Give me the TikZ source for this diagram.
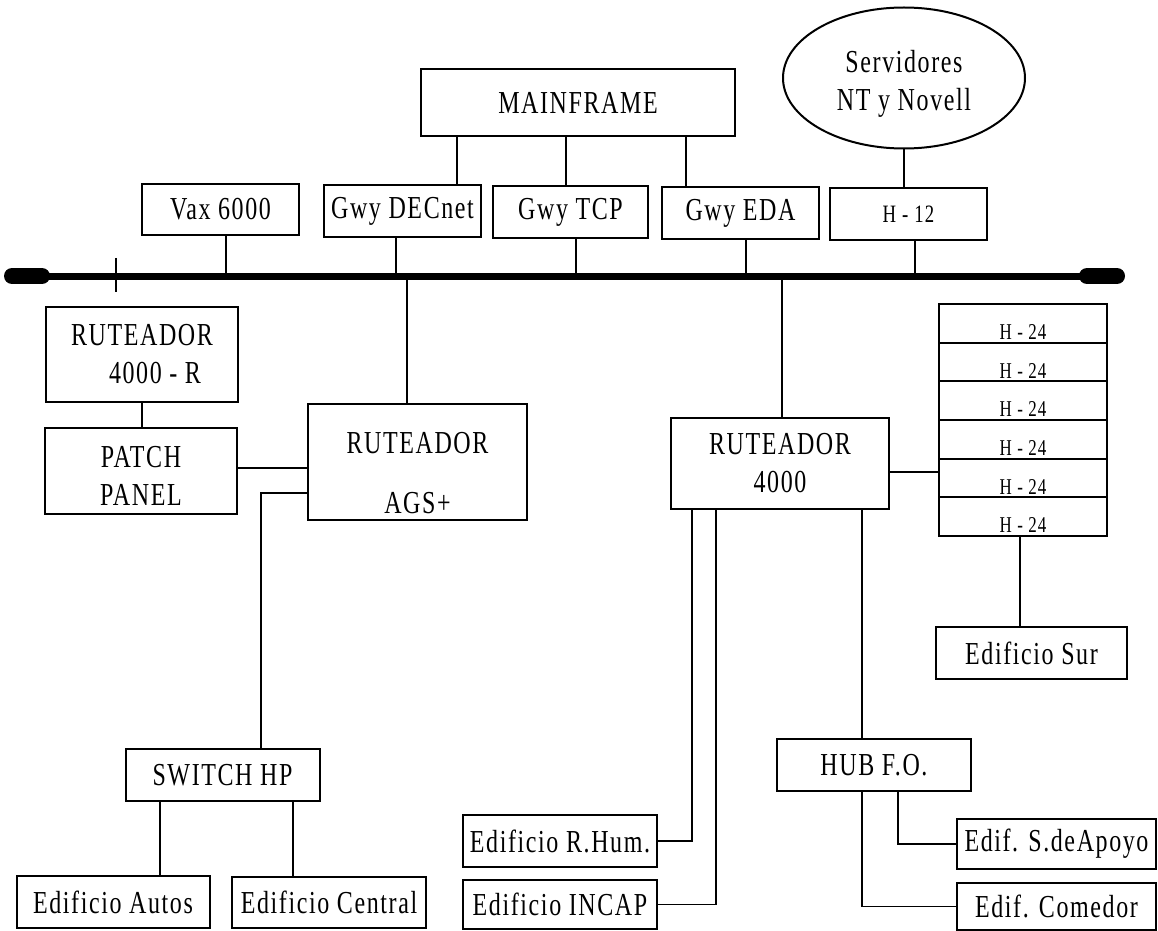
\documentclass[tikz,border=0pt]{standalone}
\usepackage{fontspec}
\setmainfont{Liberation Serif}[FakeStretch=0.75,LetterSpace=5]
\usetikzlibrary{shapes.geometric}

\begin{document}
\begin{tikzpicture}[
        x=0.5pt, y=-0.5pt,
        every node/.style={font=\fontsize{16}{19}\selectfont},
        box/.style={
            draw,
            rectangle,
            line width=1pt,
            inner sep=0pt,
            align=center
        },
        rowbox/.style={
            box,
            minimum width=84pt,
            minimum height=19.33pt,
            text height=16pt,
            text depth=0pt,
            font=\fontsize{11.3}{13}\selectfont
        },
        link/.style={line width=0.8pt},
        bus/.style={line width=3.5pt},
        buscap/.style={line width=8pt, line cap=round}
    ]

    \useasboundingbox (0,0) rectangle (1158,931);

    \node[box, minimum width=157pt, minimum height=33.5pt] (mainframe) at (578,102.5) {MAINFRAME};
    \node[draw, ellipse, line width=1pt, inner sep=0pt, align=center,
          minimum width=121pt, minimum height=70.5pt] (servers) at (904,78)
        {\rule{0pt}{16.5pt}Servidores\\NT y Novell};

    \node[box, minimum width=78.5pt, minimum height=25.5pt] (vax) at (220.5,209.5) {Vax 6000};
    \node[box, minimum width=78.5pt, minimum height=26pt] (decnet) at (402.5,211) {Gwy DECnet};
    \node[box, minimum width=77.5pt, minimum height=26pt] (tcp) at (570.5,212) {Gwy TCP};
    \node[box, minimum width=78.5pt, minimum height=26pt] (eda) at (740.5,213) {Gwy EDA};
    \node[box, minimum width=78.5pt, minimum height=26pt,
          font=\fontsize{12.5}{15}\selectfont] (h12) at (908.5,214) {H - 12};

    \node[box, minimum width=96pt, minimum height=47.5pt] (r4000r) at (142,354.5)
        {RUTEADOR\\\hspace*{13pt}4000 - R};
    \node[box, minimum width=96pt, minimum height=43pt] (patch) at (141,471)
        {\rule{0pt}{15.6pt}PATCH\\PANEL};
    \node[box, minimum width=109.5pt, minimum height=58pt] (ags) at (417.5,462)
        {\rule{0pt}{21.6pt}RUTEADOR\\[11pt]AGS+};
    \node[box, minimum width=109pt, minimum height=45.5pt] (r4000) at (780,463.5) {RUTEADOR\\4000};

    \foreach \i in {1,...,6}
        \node[rowbox] (h24-\i) at (1023,{304+38.667*(\i-0.5)}) {H - 24};

    \node[box, minimum width=95.5pt, minimum height=26pt] (sur) at (1031.5,653) {Edificio Sur};
    \node[box, minimum width=97pt, minimum height=26pt] (switch) at (222.5,775) {SWITCH HP};
    \node[box, minimum width=96.5pt, minimum height=26pt] (autos) at (113,902) {Edificio Autos};
    \node[box, minimum width=97pt, minimum height=25.5pt] (central) at (329,902.5) {Edificio Central};
    \node[box, minimum width=97pt, minimum height=26pt] (rhum) at (560,841) {Edificio R.Hum.};
    \node[box, minimum width=97pt, minimum height=24.5pt] (incap) at (560,904.5) {Edificio INCAP};
    \node[box, minimum width=97pt, minimum height=26pt] (hub) at (874,765) {HUB F.O.};
    \node[box, minimum width=99.5pt, minimum height=25pt] (apoyo) at (1056.5,844) {Edif. S.deApoyo};
    \node[box, minimum width=99.5pt, minimum height=23.5pt] (comedor) at (1056.5,906.5) {Edif. Comedor};

    % backbone
    \coordinate (busL) at (12,276);
    \coordinate (busR) at (1117,276);
    \draw[bus] (busL) -- (busR);
    \draw[buscap] (busL) -- ++(30,0);
    \draw[buscap] (busR) -- ++(-30,0);
    \draw[link] (116,258) -- (116,292);

    \coordinate (tapVax) at (226,276);
    \coordinate (tapDec) at (396,276);
    \coordinate (tapTcp) at (576,276);
    \coordinate (tapEda) at (746,276);
    \coordinate (tapH12) at (915,276);
    \coordinate (tapAgs) at (407,276);
    \coordinate (tapR4k) at (782,276);

    \draw[link] (vax.south -| tapVax) -- (tapVax);
    \draw[link] (decnet.south -| tapDec) -- (tapDec);
    \draw[link] (tcp.south -| tapTcp) -- (tapTcp);
    \draw[link] (eda.south -| tapEda) -- (tapEda);
    \draw[link] (h12.south -| tapH12) -- (tapH12);
    \draw[link] (tapAgs) -- (ags.north -| tapAgs);
    \draw[link] (tapR4k) -- (r4000.north -| tapR4k);

    \coordinate (mfA) at (457,0);
    \coordinate (mfB) at (566,0);
    \coordinate (mfC) at (686,0);
    \draw[link] (mainframe.south -| mfA) -- (decnet.north -| mfA);
    \draw[link] (mainframe.south -| mfB) -- (tcp.north -| mfB);
    \draw[link] (mainframe.south -| mfC) -- (eda.north -| mfC);
    \draw[link] (servers.south) -- (servers.south |- h12.north);

    \draw[link] (r4000r.south) -- (r4000r.south |- patch.north);
    \coordinate (patchY) at (0,468);
    \draw[link] (patch.east |- patchY) -- (ags.west |- patchY);
    \coordinate (swDown) at (261,493);
    \draw[link] (ags.west |- swDown) -| (switch.north -| swDown);

    \coordinate (autosX) at (160,0);
    \coordinate (centralX) at (293,0);
    \draw[link] (switch.south -| autosX) -- (autos.north -| autosX);
    \draw[link] (switch.south -| centralX) -- (central.north -| centralX);

    \coordinate (stackY) at (0,472);
    \draw[link] (r4000.east |- stackY) -- (h24-5.west |- stackY);
    \coordinate (surX) at (1020,0);
    \draw[link] (h24-6.south -| surX) -- (sur.north -| surX);

    \coordinate (rhumX) at (692,0);
    \coordinate (incapX) at (716,0);
    \coordinate (hubX) at (862,0);
    \coordinate (apoyoX) at (898,0);
    \draw[link] (r4000.south -| rhumX) |- (rhum.east);
    \draw[link] (r4000.south -| incapX) |- (incap.east);
    \draw[link] (r4000.south -| hubX) -- (hub.north -| hubX);
    \draw[link] (hub.south -| apoyoX) |- (apoyo.west);
    \draw[link] (hub.south -| hubX) |- (comedor.west);

\end{tikzpicture}
\end{document}
